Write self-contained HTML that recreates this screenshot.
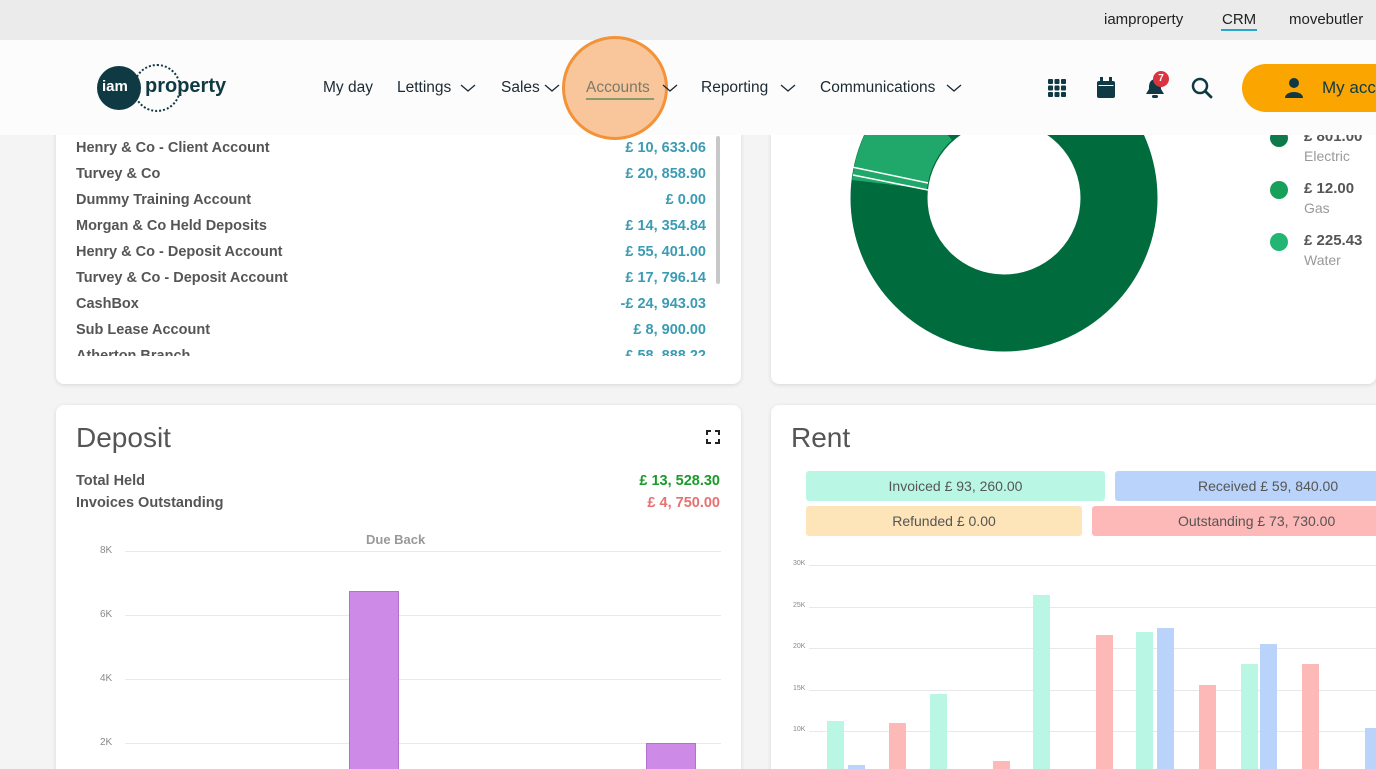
<!DOCTYPE html>
<html><head><meta charset="utf-8"><style>
*{margin:0;padding:0;box-sizing:border-box}
html,body{width:1376px;height:769px;overflow:hidden}
body{background:#f4f4f4;font-family:"Liberation Sans",sans-serif;color:#555}
#w{position:relative;width:1376px;height:769px;overflow:hidden}
.a{position:absolute;white-space:nowrap}
.card{position:absolute;background:#fff;border-radius:8px;box-shadow:0 1px 4px rgba(0,0,0,.12)}
.row{position:absolute;left:76px;width:630px;font-size:14.5px;font-weight:bold;color:#555}
.row span{position:absolute;right:0;color:#3a9bb3}
.nav{font-size:15.5px;color:#1c2a33}
.tick{position:absolute;font-size:9px;color:#888}
.gl{position:absolute;height:1px;background:#e8e8e8}
.chev{position:absolute;top:83px}
</style></head><body><div id="w">
<div class="card" style="left:56px;top:100px;width:685px;height:284px"></div>
<div class="card" style="left:771px;top:100px;width:605px;height:284px"></div>
<div class="card" style="left:56px;top:405px;width:685px;height:380px"></div>
<div class="card" style="left:771px;top:405px;width:620px;height:380px"></div>

<div class="row" style="top:140px">Henry &amp; Co - Client Account<span>£ 10, 633.06</span></div>
<div class="row" style="top:166px">Turvey &amp; Co<span>£ 20, 858.90</span></div>
<div class="row" style="top:192px">Dummy Training Account<span>£ 0.00</span></div>
<div class="row" style="top:218px">Morgan &amp; Co Held Deposits<span>£ 14, 354.84</span></div>
<div class="row" style="top:244px">Henry &amp; Co - Deposit Account<span>£ 55, 401.00</span></div>
<div class="row" style="top:270px">Turvey &amp; Co - Deposit Account<span>£ 17, 796.14</span></div>
<div class="row" style="top:296px">CashBox<span>-£ 24, 943.03</span></div>
<div class="row" style="top:322px">Sub Lease Account<span>£ 8, 900.00</span></div>
<div style="position:absolute;left:70px;top:344px;width:650px;height:12px;overflow:hidden"><div class="row" style="top:4px;left:6px">Atherton Branch<span>£ 58, 888.22</span></div></div>
<div class="a" style="left:716px;top:136px;width:4px;height:148px;background:#c8c8c8;border-radius:2px"></div>

<svg class="a" style="left:771px;top:40px" width="605" height="344">
<circle cx="233" cy="158" r="115" fill="none" stroke="#006b3c" stroke-width="77"/>
<path d="M81,140 A153,153 0 0 1 132,43 L181,100 A77,77 0 0 0 156,149 Z" fill="#1fa86a"/>
<line x1="81" y1="127" x2="157" y2="143" stroke="#fff" stroke-width="1.5"/>
<line x1="82" y1="135" x2="157" y2="150" stroke="#fff" stroke-width="1.5"/>
<circle cx="508" cy="98" r="9" fill="#0e7a4a"/>
<circle cx="508" cy="150" r="9" fill="#16a05a"/>
<circle cx="508" cy="202" r="9" fill="#22b573"/>
</svg>
<div class="a" style="left:1304px;top:128px;font-size:15px;font-weight:bold;color:#555">£ 801.00</div>
<div class="a" style="left:1304px;top:148px;font-size:14px;color:#999">Electric</div>
<div class="a" style="left:1304px;top:180px;font-size:15px;font-weight:bold;color:#555">£ 12.00</div>
<div class="a" style="left:1304px;top:200px;font-size:14px;color:#999">Gas</div>
<div class="a" style="left:1304px;top:232px;font-size:15px;font-weight:bold;color:#555">£ 225.43</div>
<div class="a" style="left:1304px;top:252px;font-size:14px;color:#999">Water</div>

<div class="a" style="left:0;top:0;width:1376px;height:40px;background:#ebebeb"></div>
<div class="a" style="left:1104px;top:11px;font-size:15px;color:#222">iamproperty</div>
<div class="a" style="left:1222px;top:11px;font-size:15px;color:#222">CRM</div>
<div class="a" style="left:1221px;top:29px;width:36px;height:2px;background:#2aa6c9"></div>
<div class="a" style="left:1289px;top:11px;font-size:15px;color:#222">movebutler</div>
<div class="a" style="left:0;top:40px;width:1376px;height:95px;background:#fcfcfc"></div>
<div class="a" style="left:97px;top:66px;width:44px;height:44px;border-radius:50%;background:#0f3a44"></div>
<div class="a" style="left:133px;top:64px;width:48px;height:48px;border-radius:50%;border:2px dotted #0f3a44"></div>
<div class="a" style="left:102px;top:78px;font-size:15px;color:#fff;font-weight:bold">iam</div>
<div class="a" style="left:145px;top:75px;font-size:20px;color:#0f3a44;font-weight:bold">property</div>
<div class="a nav" style="left:323px;top:79px">My day</div>
<div class="a nav" style="left:397px;top:79px">Lettings</div>
<div class="a nav" style="left:501px;top:79px">Sales</div>
<div class="a nav" style="left:701px;top:79px">Reporting</div>
<div class="a nav" style="left:820px;top:79px">Communications</div>
<svg class="chev" style="left:460px" width="16" height="10"><path d="M1,2 L8,8 L15,2" fill="none" stroke="#1c2a33" stroke-width="1.3"/></svg>
<svg class="chev" style="left:544px" width="16" height="10"><path d="M1,2 L8,8 L15,2" fill="none" stroke="#1c2a33" stroke-width="1.3"/></svg>
<svg class="chev" style="left:780px" width="16" height="10"><path d="M1,2 L8,8 L15,2" fill="none" stroke="#1c2a33" stroke-width="1.3"/></svg>
<svg class="chev" style="left:946px" width="16" height="10"><path d="M1,2 L8,8 L15,2" fill="none" stroke="#1c2a33" stroke-width="1.3"/></svg>
<div class="a" style="left:562px;top:36px;width:106px;height:104px;border-radius:50%;background:#f9c59a;border:3px solid #f39237"></div>
<div class="a nav" style="left:586px;top:79px;color:#7a7a6a">Accounts</div>
<div class="a" style="left:586px;top:98px;width:68px;height:2px;background:#8a9a70"></div>
<svg class="chev" style="left:662px" width="16" height="10"><path d="M1,2 L8,8 L15,2" fill="none" stroke="#1c2a33" stroke-width="1.3"/></svg>
<svg class="a" style="left:1047px;top:78px" width="20" height="20"><g fill="#0f3a44"><rect x="1" y="1" width="5" height="5" rx="1"/><rect x="7.5" y="1" width="5" height="5" rx="1"/><rect x="14" y="1" width="5" height="5" rx="1"/><rect x="1" y="7.5" width="5" height="5" rx="1"/><rect x="7.5" y="7.5" width="5" height="5" rx="1"/><rect x="14" y="7.5" width="5" height="5" rx="1"/><rect x="1" y="14" width="5" height="5" rx="1"/><rect x="7.5" y="14" width="5" height="5" rx="1"/><rect x="14" y="14" width="5" height="5" rx="1"/></g></svg>
<svg class="a" style="left:1097px;top:77px" width="18" height="22"><rect x="0" y="4" width="18" height="17" rx="2" fill="#0f3a44"/><rect x="3" y="0" width="3" height="5" fill="#0f3a44"/><rect x="12" y="0" width="3" height="5" fill="#0f3a44"/><rect x="1.5" y="8" width="15" height="1" fill="#fcfcfc"/></svg>
<svg class="a" style="left:1143px;top:76px" width="24" height="24"><path d="M12,3 C6,4 6,9 6,13 L3,18 L21,18 L18,13 C18,9 18,4 12,3Z" fill="#0f3a44"/><rect x="9" y="19" width="6" height="3" rx="1.5" fill="#0f3a44"/></svg>
<div class="a" style="left:1153px;top:71px;width:16px;height:16px;border-radius:50%;background:#d9343f;color:#fff;font-size:10px;font-weight:bold;text-align:center;line-height:16px">7</div>
<svg class="a" style="left:1191px;top:77px" width="22" height="22"><circle cx="9" cy="9" r="7" fill="none" stroke="#0f3a44" stroke-width="2.5"/><line x1="14" y1="14" x2="20" y2="20" stroke="#0f3a44" stroke-width="2.8" stroke-linecap="round"/></svg>
<div class="a" style="left:1242px;top:64px;width:200px;height:48px;border-radius:24px;background:#fba500"></div>
<svg class="a" style="left:1284px;top:77px" width="20" height="22"><circle cx="10" cy="6" r="5" fill="#0f3a44"/><path d="M1,21 C1,13 19,13 19,21Z" fill="#0f3a44"/></svg>
<div class="a" style="left:1322px;top:78px;font-size:17px;color:#0f3a44">My acc</div>

<div class="a" style="left:76px;top:422px;font-size:28px;color:#555">Deposit</div>
<svg class="a" style="left:706px;top:430px" width="14" height="14"><path d="M1,5V1H5M9,1H13V5M13,9V13H9M5,13H1V9" fill="none" stroke="#222" stroke-width="2"/></svg>
<div class="a" style="left:76px;top:473px;font-size:14.5px;font-weight:bold">Total Held</div>
<div class="a" style="left:76px;top:495px;font-size:14.5px;font-weight:bold">Invoices Outstanding</div>
<div class="a" style="right:656px;top:473px;font-size:14.5px;font-weight:bold;color:#1a9a2a">£ 13, 528.30</div>
<div class="a" style="right:656px;top:495px;font-size:14.5px;font-weight:bold;color:#e87070">£ 4, 750.00</div>
<div class="a" style="left:366px;top:532px;font-size:13px;font-weight:bold;color:#999">Due Back</div>
<div class="gl" style="left:125px;top:551px;width:596px"></div>
<div class="gl" style="left:125px;top:615px;width:596px"></div>
<div class="gl" style="left:125px;top:679px;width:596px"></div>
<div class="gl" style="left:125px;top:743px;width:596px"></div>
<div class="tick" style="left:100px;top:545px;font-size:10px">8K</div>
<div class="tick" style="left:100px;top:609px;font-size:10px">6K</div>
<div class="tick" style="left:100px;top:673px;font-size:10px">4K</div>
<div class="tick" style="left:100px;top:737px;font-size:10px">2K</div>
<div class="a" style="left:349px;top:591px;width:50px;height:200px;background:#cd8ae6;border:1px solid #b56fd0"></div>
<div class="a" style="left:646px;top:743px;width:50px;height:50px;background:#cd8ae6;border:1px solid #b56fd0"></div>

<div class="a" style="left:791px;top:422px;font-size:28px;color:#555">Rent</div>
<div class="a" style="left:806px;top:471px;width:299px;height:30px;background:#b9f7e4;border-radius:3px;text-align:center;line-height:30px;font-size:14px">Invoiced £ 93, 260.00</div>
<div class="a" style="left:1115px;top:471px;width:280px;height:30px;background:#b9d3fa;border-radius:3px;padding-left:83px;line-height:30px;font-size:14px">Received £ 59, 840.00</div>
<div class="a" style="left:806px;top:506px;width:276px;height:30px;background:#fde4b9;border-radius:3px;text-align:center;line-height:30px;font-size:14px">Refunded £ 0.00</div>
<div class="a" style="left:1092px;top:506px;width:300px;height:30px;background:#fdb8b8;border-radius:3px;padding-left:86px;line-height:30px;font-size:14px">Outstanding £ 73, 730.00</div>
<div class="gl" style="left:809px;top:565px;width:567px"></div>
<div class="gl" style="left:809px;top:607px;width:567px"></div>
<div class="gl" style="left:809px;top:648px;width:567px"></div>
<div class="gl" style="left:809px;top:690px;width:567px"></div>
<div class="gl" style="left:809px;top:731px;width:567px"></div>
<div class="tick" style="left:793px;top:560px;font-size:7px">30K</div>
<div class="tick" style="left:793px;top:602px;font-size:7px">25K</div>
<div class="tick" style="left:793px;top:643px;font-size:7px">20K</div>
<div class="tick" style="left:793px;top:685px;font-size:7px">15K</div>
<div class="tick" style="left:793px;top:726px;font-size:7px">10K</div>
<div class="a" style="left:827px;top:721px;width:17px;height:60px;background:#b9f7e4"></div>
<div class="a" style="left:848px;top:765px;width:17px;height:20px;background:#b9d3fa"></div>
<div class="a" style="left:889px;top:723px;width:17px;height:60px;background:#fdb8b8"></div>
<div class="a" style="left:930px;top:694px;width:17px;height:90px;background:#b9f7e4"></div>
<div class="a" style="left:993px;top:761px;width:17px;height:20px;background:#fdb8b8"></div>
<div class="a" style="left:1033px;top:595px;width:17px;height:190px;background:#b9f7e4"></div>
<div class="a" style="left:1096px;top:635px;width:17px;height:150px;background:#fdb8b8"></div>
<div class="a" style="left:1136px;top:632px;width:17px;height:150px;background:#b9f7e4"></div>
<div class="a" style="left:1157px;top:628px;width:17px;height:150px;background:#b9d3fa"></div>
<div class="a" style="left:1199px;top:685px;width:17px;height:100px;background:#fdb8b8"></div>
<div class="a" style="left:1241px;top:664px;width:17px;height:110px;background:#b9f7e4"></div>
<div class="a" style="left:1260px;top:644px;width:17px;height:130px;background:#b9d3fa"></div>
<div class="a" style="left:1302px;top:664px;width:17px;height:110px;background:#fdb8b8"></div>
<div class="a" style="left:1365px;top:728px;width:17px;height:50px;background:#b9d3fa"></div>
</div></body></html>
